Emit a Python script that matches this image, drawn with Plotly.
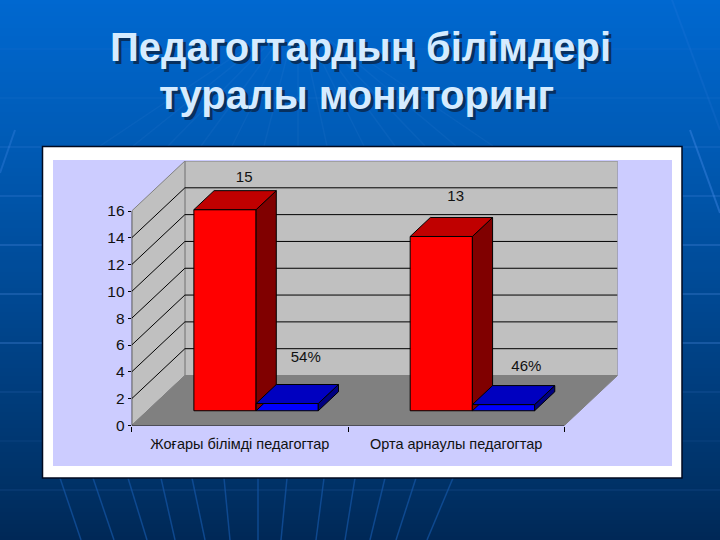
import plotly.graph_objects as go

# ---- data ----
categories = ["Жоғары білімді педагогтар", "Орта арнаулы педагогтар"]
red_values = [15, 13]
blue_values = [0.54, 0.46]
red_labels = ["15", "13"]
blue_labels = ["54%", "46%"]
y_ticks = [0, 2, 4, 6, 8, 10, 12, 14, 16]
title_lines = ["Педагогтардың білімдері", "туралы мониторинг"]

# ---- page geometry (pixels) ----
W, H = 720, 540
PX_X0, PX_X1 = 131.7, 564.3      # front floor edge
PX_Y0, PX_Y16 = 425.5, 211.0     # value axis 0 and 16
DEPTH_PX_X, DEPTH_PX_Y = 53.2, 50.0

px_cat = (PX_X1 - PX_X0) / 2
px_val = (PX_Y0 - PX_Y16) / 16
DX = DEPTH_PX_X / px_cat
DY = DEPTH_PX_Y / px_val
BAR_W = 62.2 / px_cat
Z0, Z1 = 0.305, 0.685

def fx(p): return p / W
def fy(p): return 1 - p / H

shapes = []

# background gradient bands
stops = [(0, (0, 104, 208)), (130, (0, 92, 184)), (300, (0, 72, 146)),
         (480, (0, 50, 104)), (540, (0, 40, 86))]
def grad(y):
    for (a, ca), (b, cb) in zip(stops, stops[1:]):
        if a <= y <= b:
            t = (y - a) / (b - a)
            return tuple(round(u + (v - u) * t) for u, v in zip(ca, cb))
    return stops[-1][1]

for y in range(0, H, 4):
    r, g, b = grad(y + 2)
    shapes.append(dict(type="rect", xref="paper", yref="paper", layer="below",
                       x0=0, x1=1, y0=fy(y), y1=fy(min(y + 4, H)),
                       fillcolor=f"rgb({r},{g},{b})", line_width=0))

# globe lines of the slide background
for y, a in [(49, .05), (98, .06), (147, .12), (196, .18), (245, .24), (294, .24), (343, .26),
             (392, .1), (441, .06), (490, .08)]:
    shapes.append(dict(type="line", xref="paper", yref="paper", layer="below",
                       x0=0, x1=1, y0=fy(y), y1=fy(y),
                       line=dict(color=f"rgba(90,150,240,{a})", width=2)))
merid_top = [60, 93, 128, 161, 192, 224, 258, 287, 324, 355, 385, 416, 453]
merid_bot = [81, 114, 147, 175, 205, 230, 258, 281, 316, 345, 370, 396, 427]
for a, b in zip(merid_top, merid_bot):
    shapes.append(dict(type="line", xref="paper", yref="paper", layer="below",
                       x0=fx(a), x1=fx(b), y0=fy(478), y1=fy(540),
                       line=dict(color="rgba(20,85,165,0.7)", width=1.5)))
for a, b in zip(merid_top, merid_bot):
    shapes.append(dict(type="line", xref="paper", yref="paper", layer="below",
                       x0=fx(a + 40), x1=fx(a + 40 + (258 - a) * .8), y0=fy(146), y1=fy(40),
                       line=dict(color="rgba(120,170,240,0.07)", width=1.5)))
for x0, y0, x1, y1, al in [(690, 130, 720, 213, .4), (15, 130, 0, 173, .3), (672, 0, 720, 130, .12)]:
    shapes.append(dict(type="line", xref="paper", yref="paper", layer="below",
                       x0=fx(x0), x1=fx(x1), y0=fy(y0), y1=fy(y1),
                       line=dict(color=f"rgba(70,140,235,{al})", width=2)))

# white panel and lilac chart area
shapes.append(dict(type="rect", xref="paper", yref="paper", layer="below",
                   x0=fx(42.5), x1=fx(682), y0=fy(478), y1=fy(146.5),
                   fillcolor="white", line=dict(color="#000a20", width=1.5)))
shapes.append(dict(type="rect", xref="paper", yref="paper", layer="below",
                   x0=fx(53), x1=fx(672), y0=fy(466), y1=fy(160),
                   fillcolor="#CCCCFF", line_width=0))

def poly(pts, fill, line):
    path = "M " + " L ".join(f"{x},{y}" for x, y in pts) + " Z"
    return dict(type="path", xref="x", yref="y", layer="below", path=path,
                fillcolor=fill, line=dict(color=line, width=1))

top = y_ticks[-1]
n = len(categories)
# walls and floor
shapes.append(poly([(DX, DY), (n + DX, DY), (n + DX, top + DY), (DX, top + DY)], "#C0C0C0", "#808080"))
shapes.append(poly([(0, 0), (DX, DY), (DX, top + DY), (0, top)], "#C0C0C0", "#808080"))
shapes.append(poly([(0, 0), (n, 0), (n + DX, DY), (DX, DY)], "#808080", "#808080"))
# gridlines on the walls
for v in y_ticks[1:-1]:
    shapes.append(dict(type="line", xref="x", yref="y", layer="below", x0=0, y0=v, x1=DX, y1=v + DY,
                       line=dict(color="black", width=1)))
    shapes.append(dict(type="line", xref="x", yref="y", layer="below", x0=DX, y0=v + DY, x1=n + DX, y1=v + DY,
                       line=dict(color="black", width=1)))

fig = go.Figure()

# front faces of the bars
bar_line = dict(color="black", width=1)
off_x, off_y = Z0 * DX, 0.295 * DY
centers = [i + 0.5 + off_x for i in range(n)]
red_x = [c - BAR_W / 2 for c in centers]
blue_x = [c + BAR_W / 2 for c in centers]
fig.add_trace(go.Bar(x=red_x, y=red_values, base=[off_y] * n, width=BAR_W, name="red",
                     marker=dict(color="#FF0000", line=bar_line)))
fig.add_trace(go.Bar(x=blue_x, y=blue_values, base=[off_y] * n, width=BAR_W, name="blue",
                     marker=dict(color="#0000FF", line=bar_line)))

# side and top faces of the bars
ddx, ddy = (Z1 - Z0) * DX, (Z1 - Z0) * DY
def faces(xc, val, side, topc):
    xr = xc + BAR_W / 2
    xl = xc - BAR_W / 2
    yb, yt = off_y, off_y + val
    fig.add_trace(go.Scatter(x=[xr, xr + ddx, xr + ddx, xr, xr], y=[yb, yb + ddy, yt + ddy, yt, yb],
                             mode="lines", fill="toself", fillcolor=side, line=bar_line, hoverinfo="skip"))
    fig.add_trace(go.Scatter(x=[xl, xr, xr + ddx, xl + ddx, xl], y=[yt, yt, yt + ddy, yt + ddy, yt],
                             mode="lines", fill="toself", fillcolor=topc, line=bar_line, hoverinfo="skip"))

for i in range(n):
    faces(red_x[i], red_values[i], "#800000", "#C00000")
    faces(blue_x[i], blue_values[i], "#000080", "#0000C0")

# value axis line and category axis line
fig.add_trace(go.Scatter(x=[0, 0], y=[0, top], mode="lines", line=dict(color="black", width=1), hoverinfo="skip"))
fig.add_trace(go.Scatter(x=[0, n], y=[0, 0], mode="lines", line=dict(color="black", width=1), hoverinfo="skip"))

# data labels
label_font = dict(family="Liberation Sans", size=15, color="#111111")
red_label_dx = [0.092, 0.07]
red_label_dy = [0.93, 1.48]
blue_label_dx = [0.086, 0.106]
blue_label_y = [4.98, 4.38]
fig.add_trace(go.Scatter(
    x=[c - BAR_W / 2 + d + ddx / 2 - 0.05 for c, d in zip(centers, red_label_dx)],
    y=[v + off_y + ddy + d for v, d in zip(red_values, red_label_dy)],
    mode="text", text=red_labels, textposition="middle center", textfont=label_font, hoverinfo="skip"))
fig.add_trace(go.Scatter(
    x=[c + BAR_W / 2 + d for c, d in zip(centers, blue_label_dx)],
    y=blue_label_y,
    mode="text", text=blue_labels, textposition="middle center", textfont=label_font, hoverinfo="skip"))

fig.update_layout(
    template="none",
    width=W, height=H, autosize=False,
    margin=dict(l=0, r=0, t=0, b=0),
    paper_bgcolor="#003366", plot_bgcolor="rgba(0,0,0,0)",
    showlegend=False, shapes=shapes, barmode="overlay",
    xaxis=dict(domain=[fx(PX_X0), fx(PX_X1 + DEPTH_PX_X)], range=[0, n + DX], automargin=False,
               tickmode="array", tickvals=[i + 0.5 for i in range(n)], ticktext=categories,
               ticks="", showgrid=False, zeroline=False, showline=False, ticklabelstandoff=8,
               tickfont=dict(family="Liberation Sans", size=14.5, color="#111111"),
               minor=dict(tickmode="array", tickvals=list(range(n + 1)), ticks="outside", ticklen=5,
                          tickcolor="black", showgrid=False)),
    yaxis=dict(domain=[fy(PX_Y0), fy(PX_Y16 - DEPTH_PX_Y)], range=[0, top + DY], automargin=False,
               tickmode="array", tickvals=y_ticks, ticks="outside", ticklen=3, tickcolor="black",
               showgrid=False, zeroline=False, showline=False,
               tickfont=dict(family="Liberation Sans", size=15.5, color="#111111")),
)

title_font = dict(family="Liberation Sans", size=40, color="#D5EBFF", weight="bold",
                  shadow="3px 3px 0 #07305F")
for line, xc, yc in zip(title_lines, [360.5, 356], [47, 94.5]):
    fig.add_annotation(text=line, xref="paper", yref="paper", x=fx(xc), y=fy(yc),
                       xanchor="center", yanchor="middle", showarrow=False, font=title_font)

fig.write_html("out.html", config=dict(displayModeBar=False),
               post_script="document.body.style.margin='0';document.documentElement.style.overflow='hidden';")
